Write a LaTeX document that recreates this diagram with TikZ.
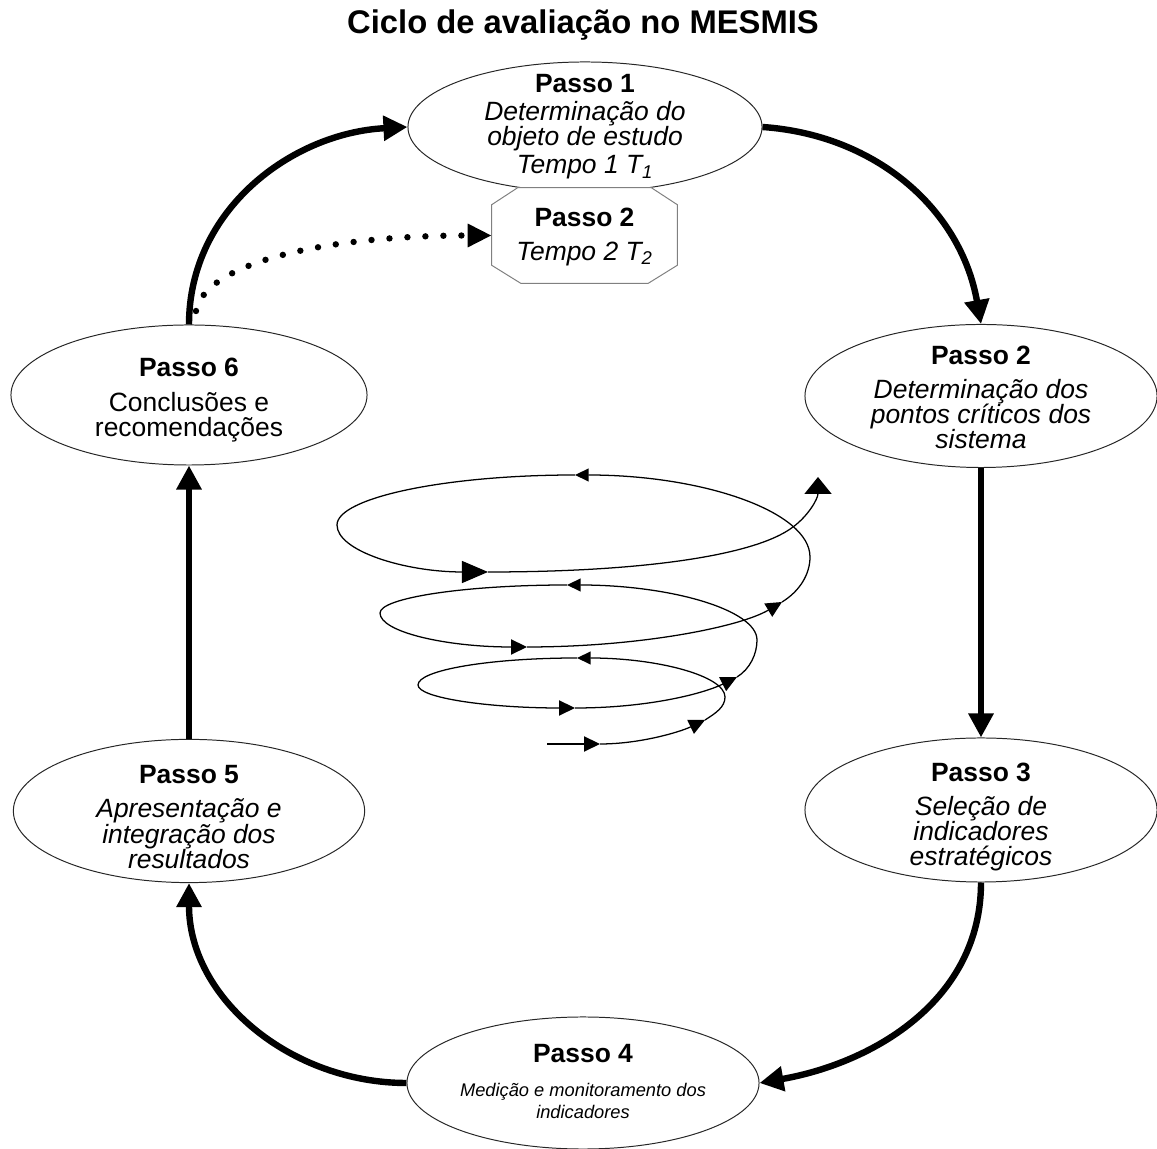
\documentclass[tikz,border=0pt]{standalone}
\usepackage{fontspec}
\setmainfont{Liberation Sans}
\usetikzlibrary{arrows.meta,shapes.geometric,calc}
\definecolor{contorno}{HTML}{262626}
\definecolor{octcinza}{HTML}{808080}

\begin{document}
\begin{tikzpicture}[x=0.025cm, y=0.025cm,
    passo/.style={ellipse, draw=contorno, line width=0.7pt, fill=white, inner sep=0pt},
    txt/.style={align=center, inner sep=0pt, font=\fontsize{18.8}{17.8}\selectfont},
    ciclo/.style={line width=0.16cm, -{Triangle[length=0.6cm,width=0.6cm]}},
    espiral/.style={line width=0.9pt},
    tipm/.style={-{Triangle[length=0.4cm,width=0.38cm]}},
    tipb/.style={-{Triangle[length=0.34cm,width=0.32cm]}},
    tipg/.style={-{Triangle[length=0.65cm,width=0.55cm]}}]
    \useasboundingbox (0,0) rectangle (1157,1149);

    % Title
    \node[font=\fontsize{23.3}{23}\selectfont\bfseries] (titulo) at (583,1124) {Ciclo de avaliação no MESMIS};

    % Steps
    \node[passo, minimum width=8.85cm, minimum height=3.25cm] (p1) at (585,1022) {};
    \node[minimum width=4.625cm, minimum height=2.375cm, inner sep=0pt] (oct) at (584.5,913.5) {};
    \draw[draw=octcinza, line width=0.7pt, fill=white]
      ($(oct.north west)+(26,0)$) -- ($(oct.north east)+(-26,0)$) -- ($(oct.north east)+(0,-17)$)
      -- ($(oct.south east)+(0,18)$) -- ($(oct.south east)+(-29,0)$) -- ($(oct.south west)+(29,0)$)
      -- ($(oct.south west)+(0,18)$) -- ($(oct.north west)+(0,-17)$) -- cycle;
    \node[passo, minimum width=8.8cm, minimum height=3.575cm] (p2) at (981,753) {};
    \node[passo, minimum width=8.8cm, minimum height=3.6cm] (p3) at (981,339) {};
    \node[passo, minimum width=8.8cm, minimum height=3.3cm] (p4) at (583,66) {};
    \node[passo, minimum width=8.78cm, minimum height=3.58cm] (p5) at (189,338) {};
    \node[passo, minimum width=8.9cm, minimum height=3.5cm] (p6) at (189,754) {};

    \node[txt] (t1) at (p1) {\textbf{Passo 1}\\[2pt]\textit{Determinação do}\\\textit{objeto de estudo}\\[2pt]\textit{Tempo 1 T\textsubscript{1}}};
    \node[txt, yshift=-1pt] (to) at (oct) {\textbf{Passo 2}\\[6.4pt]\textit{Tempo 2 T\textsubscript{2}}};
    \node[txt, yshift=-1pt] (t2) at (p2) {\textbf{Passo 2}\\[6.4pt]\textit{Determinação dos}\\\textit{pontos críticos dos}\\\textit{sistema}};
    \node[txt, yshift=-5pt] (t3) at (p3) {\textbf{Passo 3}\\[6.4pt]\textit{Seleção de}\\\textit{indicadores}\\\textit{estratégicos}};
    \node[txt, yshift=1pt, font=\fontsize{13}{15.6}\selectfont] (t4) at (p4) {\fontsize{18.8}{18}\selectfont\textbf{Passo 4}\\[9pt]\textit{Medição e monitoramento dos}\\\textit{indicadores}};
    \node[txt, yshift=-4.3pt] (t5) at (p5) {\textbf{Passo 5}\\[6.4pt]\textit{Apresentação e}\\\textit{integração dos}\\\textit{resultados}};
    \node[txt, yshift=-3.5pt] (t6) at (p6) {\textbf{Passo 6}\\[7pt]Conclusões e\\recomendações};

    % Cycle
    \draw[ciclo] (p6.north) to[out=90, in=183] (p1.west);
    \draw[ciclo] (p1.east) to[out=-4, in=100] (p2.north);
    \draw[ciclo] (p2.south) -- (p3.north);
    \draw[ciclo] (p3.south) to[out=-90, in=10] (p4.east);
    \draw[ciclo] (p4.west) to[out=180, in=-90] (p5.south);
    \draw[ciclo] (p5.north) -- (p6.south);

    % Dotted return to time 2
    \coordinate (pontos) at (196,838);
    \draw[line width=0.16cm, line cap=round, dash pattern=on 0pt off 0.45cm,
          -{Triangle[length=0.6cm,width=0.55cm]}]
      (pontos) .. controls (205,885) and (320,913.5) .. (oct.west);

    % Spiral
    \coordinate (s0) at (547,405);
    \coordinate (s1) at (600,405);
    \coordinate (s2) at (705,429);
    \coordinate (s3) at (725,452);
    \coordinate (s4) at (577,491);
    \coordinate (s5) at (418,464);
    \coordinate (s6) at (575,441);
    \coordinate (s7) at (737,472);
    \coordinate (s8) at (757,509);
    \coordinate (s9) at (567,564);
    \coordinate (s10) at (380,536);
    \coordinate (s11) at (527,502);
    \coordinate (s12) at (782,547);
    \coordinate (s13) at (810,592);
    \coordinate (s14) at (575,674);
    \coordinate (s15) at (337,624);
    \coordinate (s16) at (488,577);
    \coordinate (s17) at (793,622);
    \coordinate (s18) at (818,672);

    \draw[espiral, tipm] (s0) -- (s1);
    \draw[espiral, tipm] (s1) .. controls (640,405) and (680,417) .. (s2);
    \draw[espiral] (s2) .. controls (716,436) and (725,442) .. (s3);
    \draw[espiral, tipb] (s3) .. controls (725,473) and (658,491) .. (s4);
    \draw[espiral] (s4) .. controls (490,491) and (418,479) .. (s5);
    \draw[espiral, tipm] (s5) .. controls (418,451) and (489,441) .. (s6);
    \draw[espiral, tipm] (s6) .. controls (650,441) and (705,456) .. (s7);
    \draw[espiral] (s7) .. controls (750,480) and (757,495) .. (s8);
    \draw[espiral, tipb] (s8) .. controls (757,539) and (671,564) .. (s9);
    \draw[espiral] (s9) .. controls (464,564) and (380,551) .. (s10);
    \draw[espiral, tipm] (s10) .. controls (380,517) and (446,502) .. (s11);
    \draw[espiral, tipm] (s11) .. controls (640,502) and (740,522) .. (s12);
    \draw[espiral] (s12) .. controls (800,558) and (810,575) .. (s13);
    \draw[espiral, tipb] (s13) .. controls (810,637) and (704,674) .. (s14);
    \draw[espiral] (s14) .. controls (444,674) and (337,651) .. (s15);
    \draw[espiral, tipg] (s15) .. controls (337,598) and (405,577) .. (s16);
    \draw[espiral] (s16) .. controls (640,577) and (755,593) .. (s17);
    \draw[espiral, -{Triangle[length=0.42cm,width=0.67cm]}] (s17) .. controls (808,633) and (818,650) .. (s18);
\end{tikzpicture}
\end{document}
